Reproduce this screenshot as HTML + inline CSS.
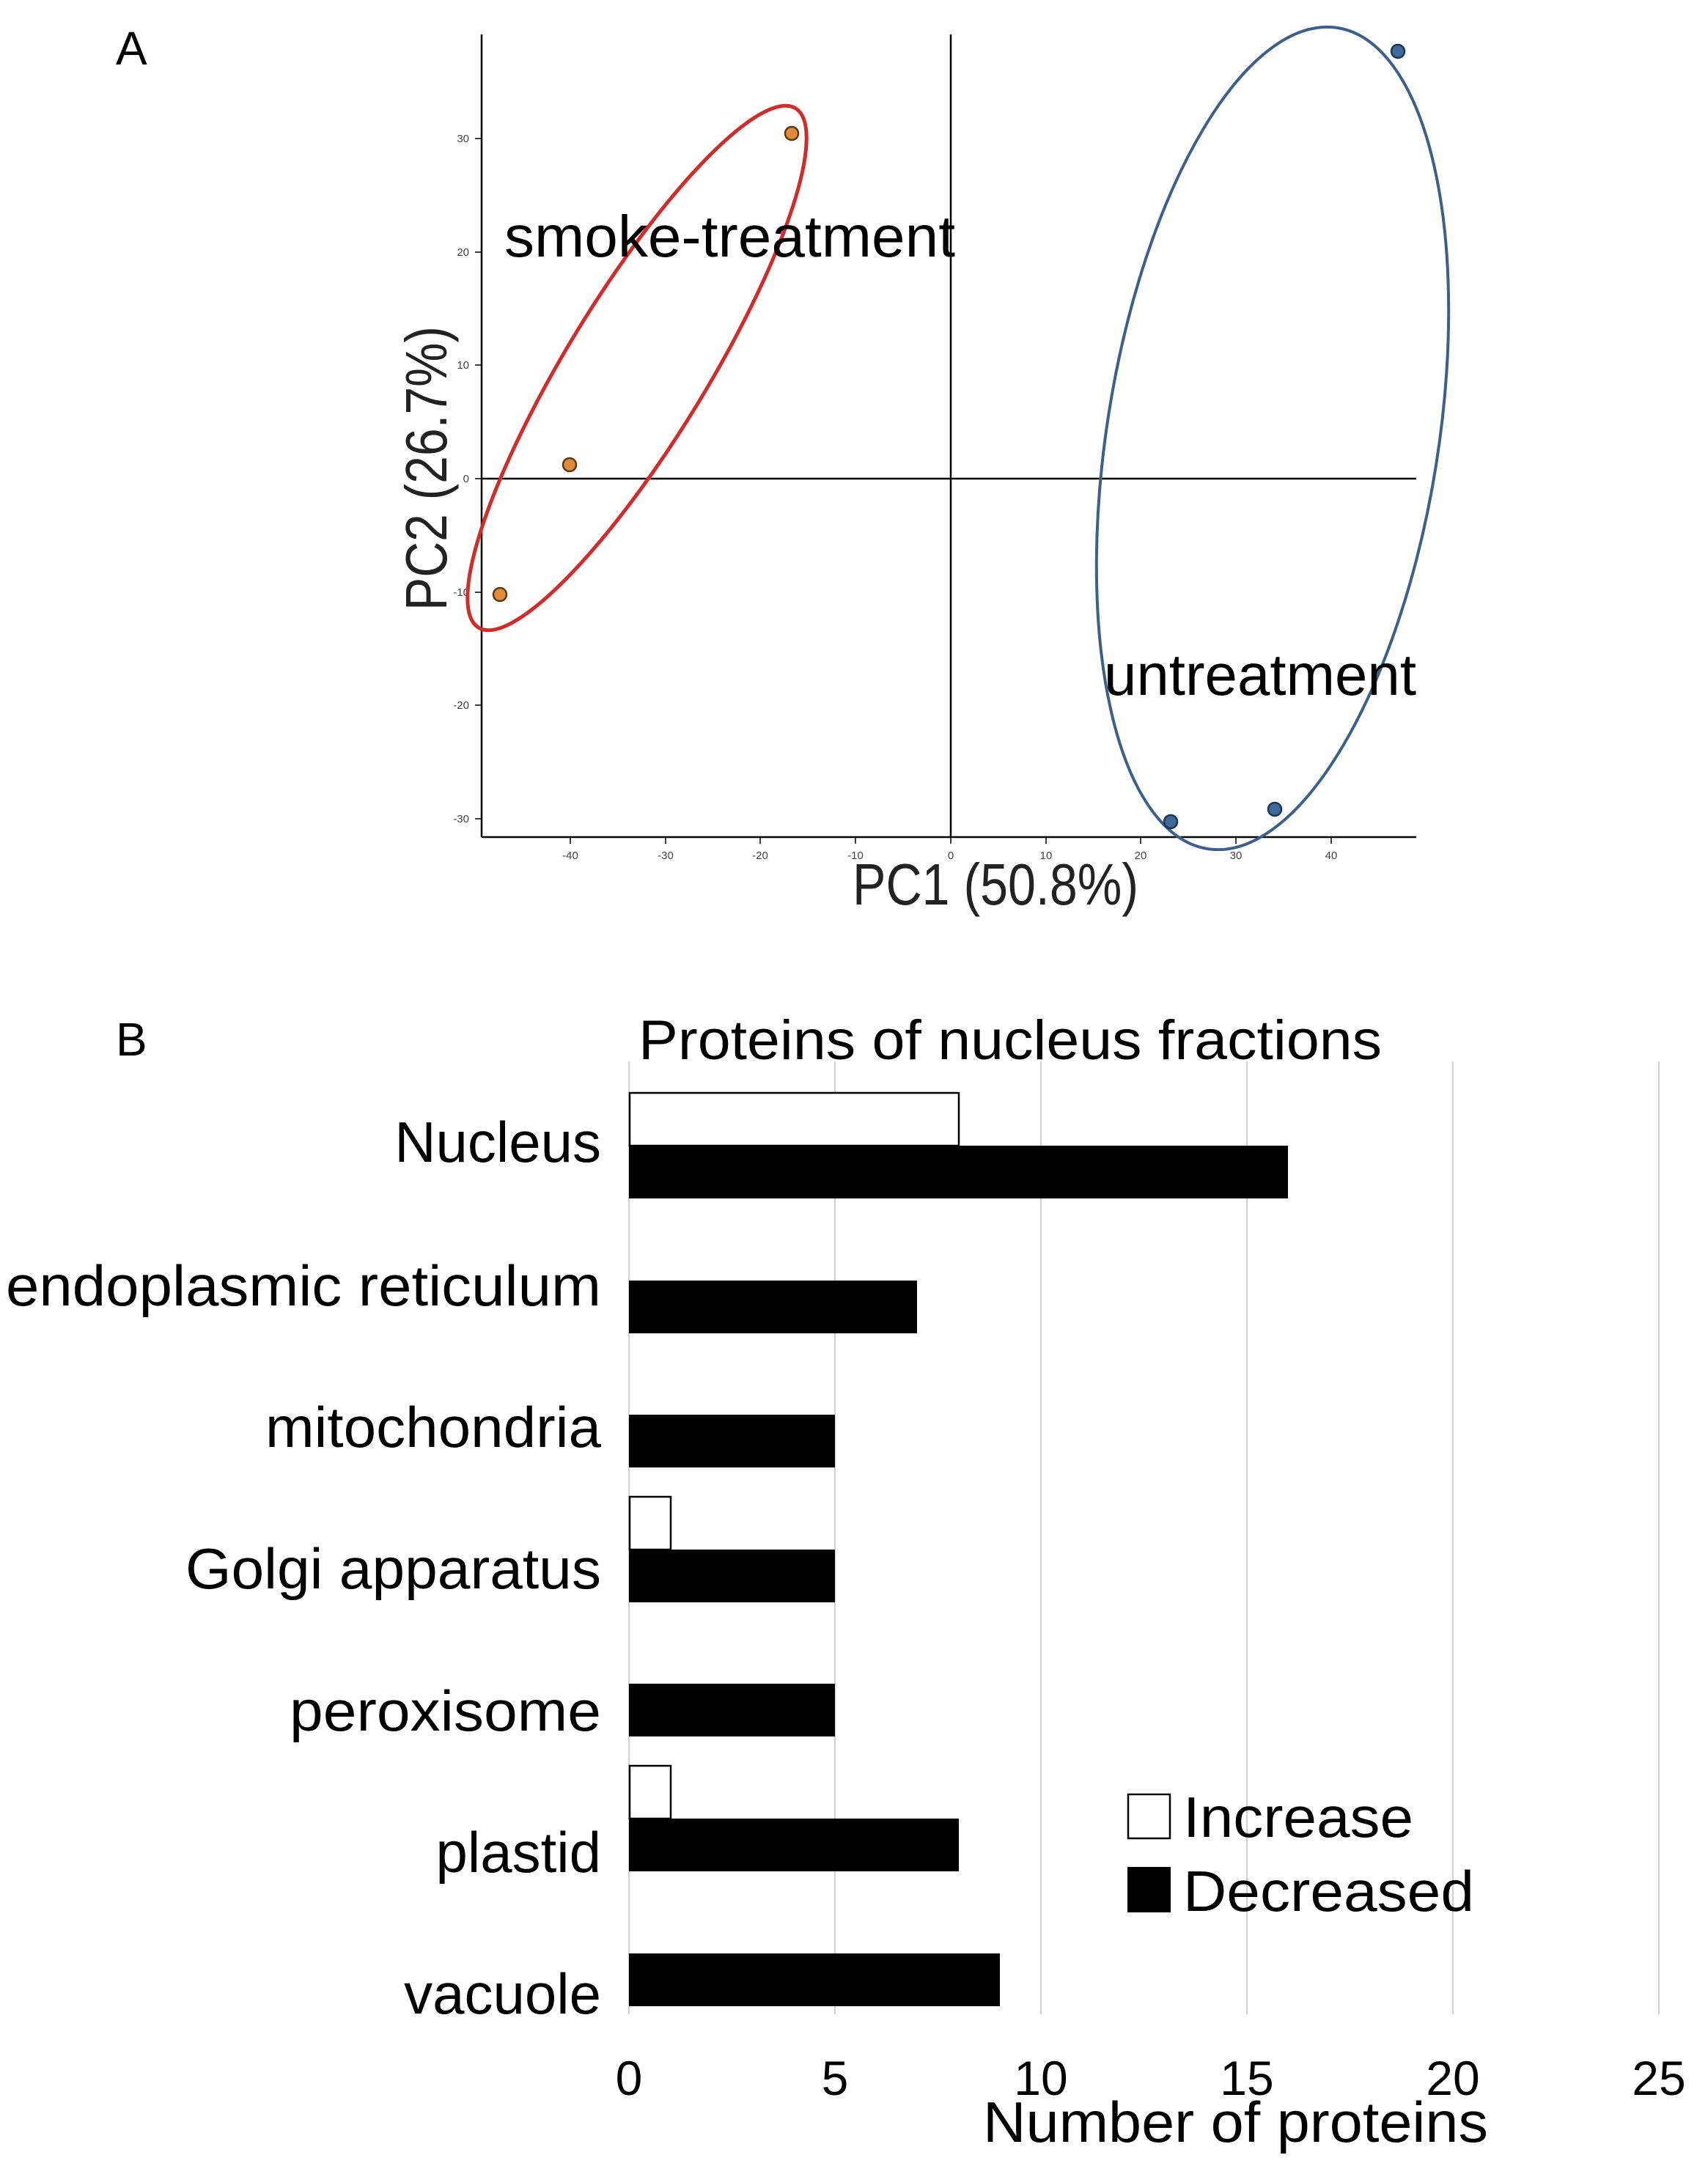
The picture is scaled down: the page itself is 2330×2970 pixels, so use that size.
<!DOCTYPE html>
<html><head><meta charset="utf-8"><style>
html,body{margin:0;padding:0;background:#fff}
svg{display:block}
text{font-family:"Liberation Sans",sans-serif}
</style></head><body>
<svg width="2330" height="2970" viewBox="0 0 2330 2970" xmlns="http://www.w3.org/2000/svg">
<rect width="2330" height="2970" fill="#fff"/>
<text x="158" y="88" font-size="64">A</text>
<g stroke="#000" stroke-width="2.5">
<line x1="657" y1="47" x2="657" y2="1142"/>
<line x1="657" y1="1142" x2="1932" y2="1142"/>
<line x1="1297" y1="47" x2="1297" y2="1142"/>
<line x1="657" y1="653" x2="1932" y2="653"/>
</g>
<g stroke="#000" stroke-width="1.5">
<line x1="648" y1="189" x2="657" y2="189"/><line x1="648" y1="344" x2="657" y2="344"/>
<line x1="648" y1="498" x2="657" y2="498"/><line x1="648" y1="653" x2="657" y2="653"/>
<line x1="648" y1="808" x2="657" y2="808"/><line x1="648" y1="962" x2="657" y2="962"/>
<line x1="648" y1="1117" x2="657" y2="1117"/>
<line x1="778" y1="1142" x2="778" y2="1151"/><line x1="908" y1="1142" x2="908" y2="1151"/>
<line x1="1037" y1="1142" x2="1037" y2="1151"/><line x1="1167" y1="1142" x2="1167" y2="1151"/>
<line x1="1297" y1="1142" x2="1297" y2="1151"/><line x1="1427" y1="1142" x2="1427" y2="1151"/>
<line x1="1556" y1="1142" x2="1556" y2="1151"/><line x1="1686" y1="1142" x2="1686" y2="1151"/>
<line x1="1816" y1="1142" x2="1816" y2="1151"/>
</g>
<g font-size="15" fill="#444" text-anchor="end">
<text x="640" y="194">30</text><text x="640" y="349">20</text><text x="640" y="503">10</text>
<text x="640" y="658">0</text><text x="640" y="813">-10</text><text x="640" y="967">-20</text><text x="640" y="1122">-30</text>
</g>
<g font-size="15" fill="#444" text-anchor="middle">
<text x="778" y="1172">-40</text><text x="908" y="1172">-30</text><text x="1037" y="1172">-20</text>
<text x="1167" y="1172">-10</text><text x="1297" y="1172">0</text><text x="1427" y="1172">10</text>
<text x="1556" y="1172">20</text><text x="1686" y="1172">30</text><text x="1816" y="1172">40</text>
</g>
<ellipse cx="869" cy="502" rx="415" ry="96" transform="rotate(-58.6 869 502)" fill="none" stroke="#d42a2a" stroke-width="5"/>
<ellipse cx="1736" cy="598" rx="226" ry="567" transform="rotate(9 1736 598)" fill="none" stroke="#3d5f8c" stroke-width="4"/>
<g fill="#e08a3a" stroke="#5a3a10" stroke-width="2.5">
<circle cx="1080" cy="182" r="9"/><circle cx="777" cy="634" r="9"/><circle cx="682" cy="811" r="9"/>
</g>
<g fill="#3d6a9a" stroke="#1e3550" stroke-width="2.5">
<circle cx="1907" cy="70" r="9"/><circle cx="1597" cy="1121" r="9"/><circle cx="1739" cy="1104" r="9"/>
</g>
<text x="688" y="350" font-size="80" textLength="615" lengthAdjust="spacingAndGlyphs">smoke-treatment</text>
<text x="1506" y="948" font-size="80" textLength="426" lengthAdjust="spacingAndGlyphs">untreatment</text>
<text x="1163" y="1234" font-size="80" fill="#222" textLength="390" lengthAdjust="spacingAndGlyphs">PC1 (50.8%)</text>
<text transform="translate(609 833) rotate(-90)" font-size="80" fill="#222" textLength="388" lengthAdjust="spacingAndGlyphs">PC2 (26.7%)</text>
<text x="158" y="1440" font-size="64">B</text>
<text x="871" y="1445" font-size="76" textLength="1014" lengthAdjust="spacingAndGlyphs">Proteins of nucleus fractions</text>
<g stroke="#d0d0d0" stroke-width="2">
<line x1="1139" y1="1448" x2="1139" y2="2748"/><line x1="1420" y1="1448" x2="1420" y2="2748"/>
<line x1="1701" y1="1448" x2="1701" y2="2748"/><line x1="1982" y1="1448" x2="1982" y2="2748"/>
<line x1="2263" y1="1448" x2="2263" y2="2748"/>
</g>
<line x1="858" y1="1448" x2="858" y2="2748" stroke="#d0d0d0" stroke-width="2"/>
<g fill="#000">
<rect x="858" y="1563" width="899" height="72"/>
<rect x="858" y="1747" width="393" height="72"/>
<rect x="858" y="1930" width="281" height="72"/>
<rect x="858" y="2114" width="281" height="72"/>
<rect x="858" y="2297" width="281" height="72"/>
<rect x="858" y="2481" width="450" height="72"/>
<rect x="858" y="2665" width="506" height="72"/>
</g>
<g fill="#fff" stroke="#000" stroke-width="2.5">
<rect x="859" y="1491" width="449" height="72"/>
<rect x="859" y="2042" width="56" height="72"/>
<rect x="859" y="2409" width="56" height="72"/>
</g>
<g font-size="78" text-anchor="end">
<text x="820" y="1585">Nucleus</text>
<text x="820" y="1781" textLength="812" lengthAdjust="spacingAndGlyphs">endoplasmic reticulum</text>
<text x="820" y="1974" textLength="458" lengthAdjust="spacingAndGlyphs">mitochondria</text>
<text x="820" y="2167" textLength="567" lengthAdjust="spacingAndGlyphs">Golgi apparatus</text>
<text x="820" y="2361" textLength="425" lengthAdjust="spacingAndGlyphs">peroxisome</text>
<text x="820" y="2554">plastid</text>
<text x="820" y="2747">vacuole</text>
</g>
<g font-size="66" text-anchor="middle">
<text x="858" y="2858">0</text><text x="1139" y="2858">5</text><text x="1420" y="2858">10</text>
<text x="1701" y="2858">15</text><text x="1982" y="2858">20</text><text x="2263" y="2858">25</text>
</g>
<text x="1341" y="2922" font-size="78" textLength="689" lengthAdjust="spacingAndGlyphs">Number of proteins</text>
<rect x="1539" y="2448" width="57" height="60" fill="#fff" stroke="#000" stroke-width="2.5"/>
<rect x="1538" y="2547" width="59" height="62" fill="#000"/>
<text x="1614" y="2506" font-size="78" textLength="314" lengthAdjust="spacingAndGlyphs">Increase</text>
<text x="1614" y="2607" font-size="78" textLength="397" lengthAdjust="spacingAndGlyphs">Decreased</text>
</svg>
</body></html>
